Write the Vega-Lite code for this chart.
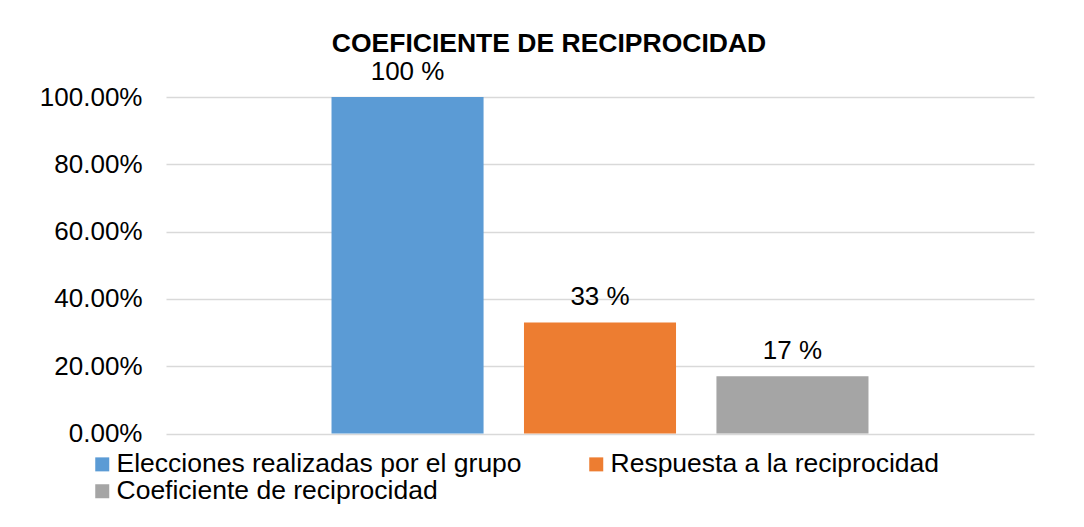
{
  "$schema": "https://vega.github.io/schema/vega-lite/v6.json",
  "width": 868,
  "height": 336.5,
  "autosize": {"type": "none"},
  "padding": {"left": 166, "top": 97, "right": 50, "bottom": 93.5},
  "background": "white",
  "title": {
    "text": "COEFICIENTE DE RECIPROCIDAD",
    "font": "Liberation Sans",
    "fontSize": 26.5,
    "fontWeight": "bold",
    "color": "#000000",
    "anchor": "middle",
    "frame": "group",
    "baseline": "alphabetic",
    "dx": -51,
    "dy": 39,
    "offset": 20
  },
  "data": {
    "values": [
      {"serie": "Elecciones realizadas por el grupo", "valor": 1.0, "etiqueta": "100 %"},
      {"serie": "Respuesta a la reciprocidad", "valor": 0.33, "etiqueta": "33 %"},
      {"serie": "Coeficiente de reciprocidad", "valor": 0.17, "etiqueta": "17 %"}
    ]
  },
  "encoding": {
    "x": {
      "field": "serie",
      "type": "nominal",
      "sort": null,
      "scale": {"paddingInner": 0.21, "paddingOuter": 0.86},
      "axis": null
    },
    "y": {
      "field": "valor",
      "type": "quantitative",
      "scale": {"domain": [0, 1]},
      "axis": {
        "title": null,
        "values": [0, 0.2, 0.4, 0.6, 0.8, 1],
        "format": ".2%",
        "labelFont": "Liberation Sans",
        "labelFontSize": 26,
        "labelColor": "#000000",
        "labelPadding": 24,
        "ticks": false,
        "domain": false,
        "gridColor": "#D9D9D9",
        "gridWidth": 1.3
      }
    }
  },
  "layer": [
    {
      "mark": {"type": "bar"},
      "encoding": {
        "color": {
          "field": "serie",
          "type": "nominal",
          "sort": null,
          "scale": {
            "domain": ["Elecciones realizadas por el grupo", "Respuesta a la reciprocidad", "Coeficiente de reciprocidad"],
            "range": ["#5B9BD5", "#ED7D31", "#A5A5A5"]
          },
          "legend": {
            "orient": "none",
            "legendX": -77,
            "legendY": 354,
            "columns": 2,
            "direction": "horizontal",
            "title": null,
            "symbolType": "square",
            "symbolSize": 196,
            "symbolStrokeWidth": 0,
            "labelFont": "Liberation Sans",
            "labelFontSize": 26.5,
            "labelColor": "#000000",
            "labelOffset": 1,
            "labelLimit": 0,
            "columnPadding": 61,
            "rowPadding": 0,
            "padding": 0
          }
        }
      }
    },
    {
      "mark": {
        "type": "text",
        "baseline": "alphabetic",
        "dy": -17,
        "font": "Liberation Sans",
        "fontSize": 26,
        "color": "#000000"
      },
      "encoding": {
        "text": {"field": "etiqueta", "type": "nominal"}
      }
    }
  ],
  "config": {"view": {"stroke": null}}
}
